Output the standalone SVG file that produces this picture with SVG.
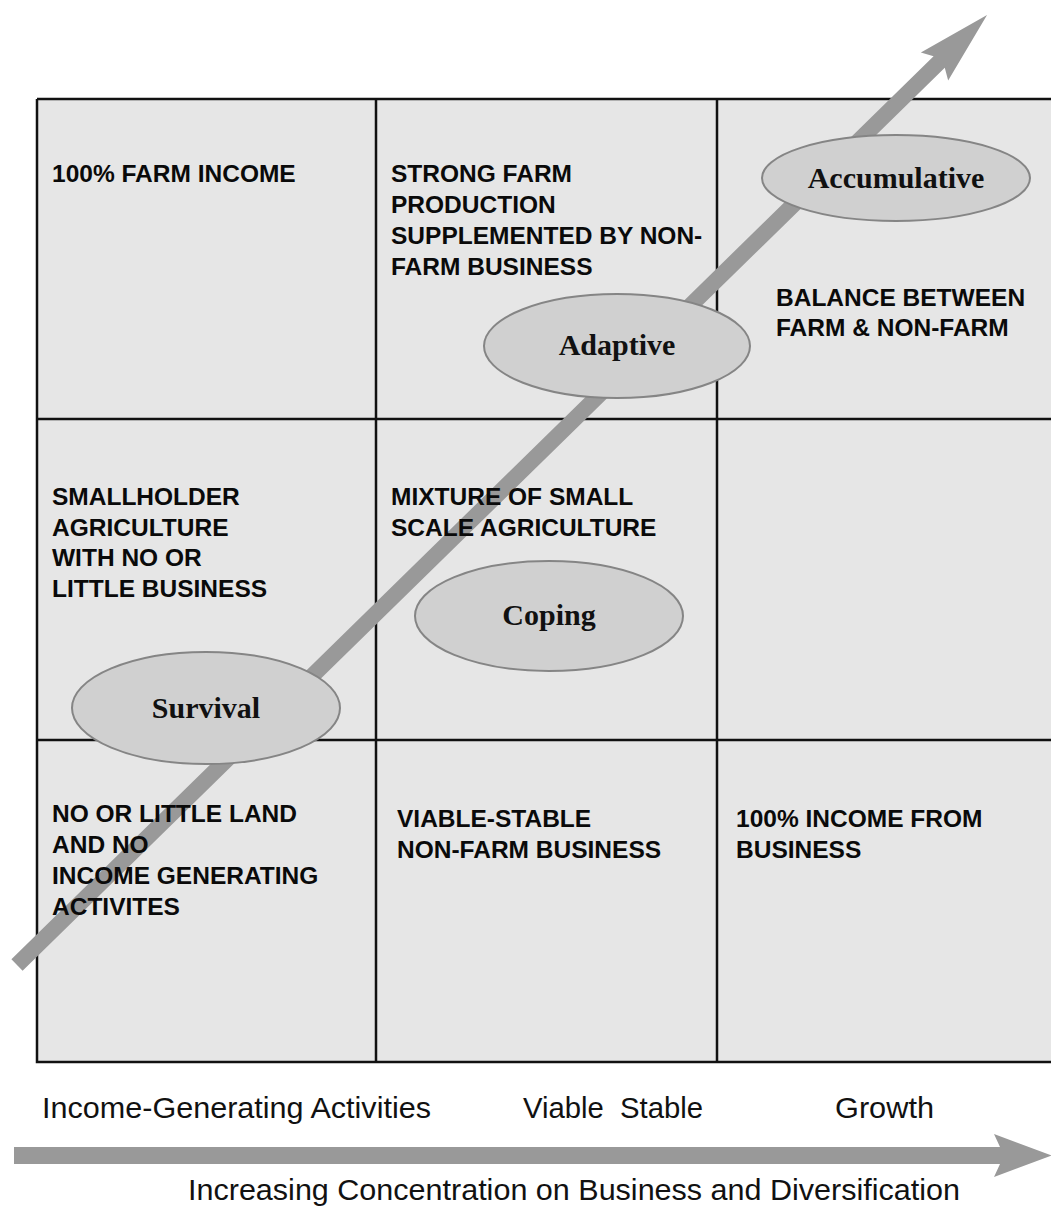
<svg xmlns="http://www.w3.org/2000/svg" width="1051" height="1211" viewBox="0 0 1051 1211">
  <style>
    .cell { fill: #e6e6e6; stroke: none; }
    .grid { stroke: #111; stroke-width: 2.5; fill: none; }
    .arrow { fill: #999999; }
    .stage { fill: #d0d0d0; stroke: #858585; stroke-width: 2; }
    .stage-label { font-family: "Liberation Serif", "Times New Roman", serif; font-weight: bold; font-size: 30px; fill: #111; text-anchor: middle; }
    .cell-text { font-family: "Liberation Sans", Arial, sans-serif; font-weight: bold; font-size: 24.5px; fill: #0a0a0a; }
    .axis-text { font-family: "Liberation Sans", Arial, sans-serif; font-size: 30px; fill: #111; white-space: pre; }
  </style>

  <rect width="1051" height="1211" fill="#ffffff"/>

  <!-- matrix background and grid -->
  <g id="grid">
    <rect class="cell" x="37" y="99" width="1030" height="963"/>
    <path class="grid" d="M37,99 H1060 M37,99 V1062 H1060 M376,99 V1062 M717,99 V1062 M37,419 H1060 M37,740 H1060"/>
  </g>

  <!-- diagonal progression arrow and horizontal axis arrow -->
  <g id="connectors">
    <polygon class="arrow" transform="translate(17,965) rotate(-44.4)" points="0,-8 1290.7,-8 1284.2,-19.5 1357.7,0 1284.2,19.5 1290.7,8 0,8"/>
    <polygon class="arrow" points="14,1147 1000,1147 994,1134 1052,1155.5 994,1177 1000,1164 14,1164"/>
  </g>

  <!-- cell descriptions -->
  <g id="cell-top-left">
    <text class="cell-text" x="52" y="182">100% FARM INCOME</text>
  </g>
  <g id="cell-top-middle">
    <text class="cell-text" x="391" y="182">STRONG FARM</text>
    <text class="cell-text" x="391" y="213">PRODUCTION</text>
    <text class="cell-text" x="391" y="244">SUPPLEMENTED BY NON-</text>
    <text class="cell-text" x="391" y="275">FARM BUSINESS</text>
  </g>
  <g id="cell-top-right">
    <text class="cell-text" x="776" y="306">BALANCE BETWEEN</text>
    <text class="cell-text" x="776" y="336">FARM &amp; NON-FARM</text>
  </g>
  <g id="cell-middle-left">
    <text class="cell-text" x="52" y="505">SMALLHOLDER</text>
    <text class="cell-text" x="52" y="536">AGRICULTURE</text>
    <text class="cell-text" x="52" y="566">WITH NO OR</text>
    <text class="cell-text" x="52" y="597">LITTLE BUSINESS</text>
  </g>
  <g id="cell-middle-middle">
    <text class="cell-text" x="391" y="505">MIXTURE OF SMALL</text>
    <text class="cell-text" x="391" y="536">SCALE AGRICULTURE</text>
  </g>
  <g id="cell-bottom-left">
    <text class="cell-text" x="52" y="822">NO OR LITTLE LAND</text>
    <text class="cell-text" x="52" y="853">AND NO</text>
    <text class="cell-text" x="52" y="884">INCOME GENERATING</text>
    <text class="cell-text" x="52" y="915">ACTIVITES</text>
  </g>
  <g id="cell-bottom-middle">
    <text class="cell-text" x="397" y="827">VIABLE-STABLE</text>
    <text class="cell-text" x="397" y="858">NON-FARM BUSINESS</text>
  </g>
  <g id="cell-bottom-right">
    <text class="cell-text" x="736" y="827">100% INCOME FROM</text>
    <text class="cell-text" x="736" y="858">BUSINESS</text>
  </g>

  <!-- livelihood stages -->
  <g id="stage-accumulative">
    <ellipse class="stage" cx="896" cy="178" rx="134" ry="43"/>
    <text class="stage-label" x="896" y="188">Accumulative</text>
  </g>
  <g id="stage-adaptive">
    <ellipse class="stage" cx="617" cy="346" rx="133" ry="52"/>
    <text class="stage-label" x="617" y="355">Adaptive</text>
  </g>
  <g id="stage-coping">
    <ellipse class="stage" cx="549" cy="616" rx="134" ry="55"/>
    <text class="stage-label" x="549" y="625">Coping</text>
  </g>
  <g id="stage-survival">
    <ellipse class="stage" cx="206" cy="708" rx="134" ry="56"/>
    <text class="stage-label" x="206" y="718">Survival</text>
  </g>

  <!-- axis captions -->
  <g id="axis-labels">
    <text class="axis-text" x="42" y="1118" textLength="389" lengthAdjust="spacingAndGlyphs">Income-Generating Activities</text>
    <text class="axis-text" x="523" y="1118" textLength="180" lengthAdjust="spacingAndGlyphs">Viable  Stable</text>
    <text class="axis-text" x="835" y="1118" textLength="99" lengthAdjust="spacingAndGlyphs">Growth</text>
    <text class="axis-text" x="188" y="1200" textLength="772" lengthAdjust="spacingAndGlyphs">Increasing Concentration on Business and Diversification</text>
  </g>
</svg>
